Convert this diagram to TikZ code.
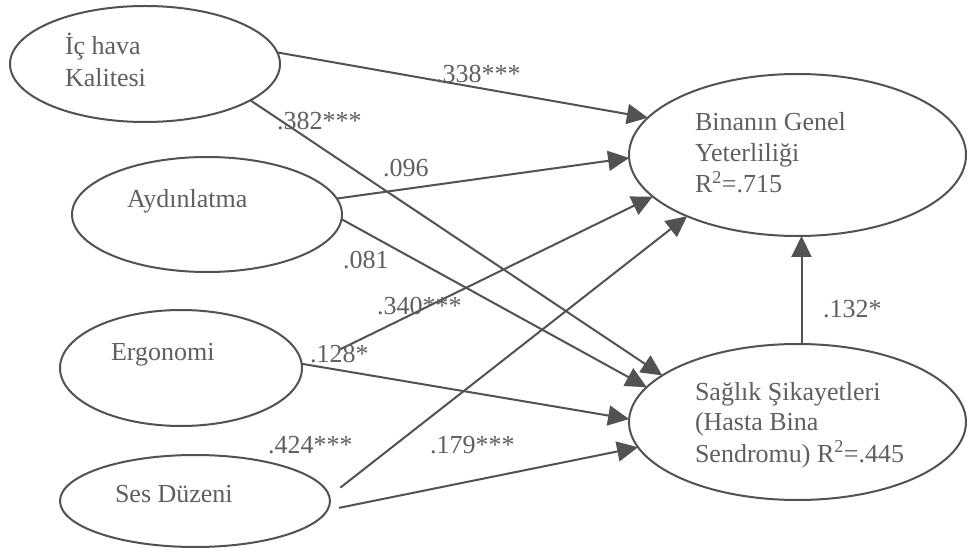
\documentclass[tikz,border=0pt]{standalone}
\usepackage{fontspec}
\setmainfont{Liberation Serif}
\usetikzlibrary{arrows.meta,shapes.geometric}
\definecolor{lc}{RGB}{82,82,82}
\definecolor{tc}{RGB}{95,95,95}
\begin{document}
\begin{tikzpicture}[x=1pt,y=-1pt,
  oval/.style={ellipse, draw=lc, line width=2pt, inner sep=0pt, outer sep=0pt},
  lbl/.style={anchor=base west, inner sep=0pt, outer sep=0pt, text=tc, font=\fontsize{26}{31}\selectfont},
  arr/.style={draw=lc, line width=2pt, -{Triangle[length=21pt,width=20pt]}}]
\useasboundingbox[fill=white] (0,0) rectangle (967,548);
% ellipses
\node[oval, minimum width=270pt, minimum height=116pt] (ic)  at (145,64)  {};
\node[oval, minimum width=270pt, minimum height=115pt] (ayd) at (207,214.5) {};
\node[oval, minimum width=242pt, minimum height=116pt] (erg) at (181,368) {};
\node[oval, minimum width=270pt, minimum height=92pt]  (ses) at (195,501) {};
\node[oval, minimum width=337pt, minimum height=162pt] (bin) at (797.5,155) {};
\node[oval, minimum width=337pt, minimum height=156pt] (sag) at (797.5,422) {};
% texts in ellipses
\node[lbl] (ic1) at (65,55) {İç hava};
\node[lbl] (ic2) at (65,87) {Kalitesi};
\node[lbl] (ayt) at (127,208) {Aydınlatma};
\node[lbl] (ert) at (111,360) {Ergonomi};
\node[lbl] (set) at (115,502) {Ses Düzeni};
\node[lbl] (bi1) at (695,131) {Binanın Genel};
\node[lbl] (bi2) at (695,162) {Yeterliliği};
\node[lbl] (bi3) at (695,193) {R\textsuperscript{2}=.715};
\node[lbl] (sa1) at (695,400) {Sağlık Şikayetleri};
\node[lbl] (sa2) at (695,430) {(Hasta Bina};
\node[lbl] (sa3) at (695,462) {Sendromu) R\textsuperscript{2}=.445};
% connectors
\draw[arr] (ic.5.6) -- (bin.166.7);
\draw[arr] (ic.341.9) -- (sag.161.1);
\draw[arr] (ayd.7.2) -- (bin.181);
\draw[arr] (ayd.358.5) -- (sag.167.3);
\draw[arr, shorten <=43pt] (erg.east) -- (bin.196.75);
\draw[arr] (erg.2) -- (sag.179.3);
\draw[arr, shorten <=14pt] (ses.2.3) -- (bin.209.25);
\draw[arr, shorten <=12pt] (ses.356.4) -- (sag.189.8);
\draw[arr] ([xshift=4pt]sag.north) -- ([xshift=4pt]bin.south);
% coefficient labels
\node[lbl] (l338) at (436,83)  {.338***};
\node[lbl] (l382) at (277,130) {.382***};
\node[lbl] (l096) at (383,177) {.096};
\node[lbl] (l081) at (343,269) {.081};
\node[lbl] (l340) at (377,315) {.340***};
\node[lbl] (l128) at (310,362) {.128*};
\node[lbl] (l424) at (268,453) {.424***};
\node[lbl] (l179) at (430,453) {.179***};
\node[lbl] (l132) at (823,317) {.132*};
\end{tikzpicture}
\end{document}
